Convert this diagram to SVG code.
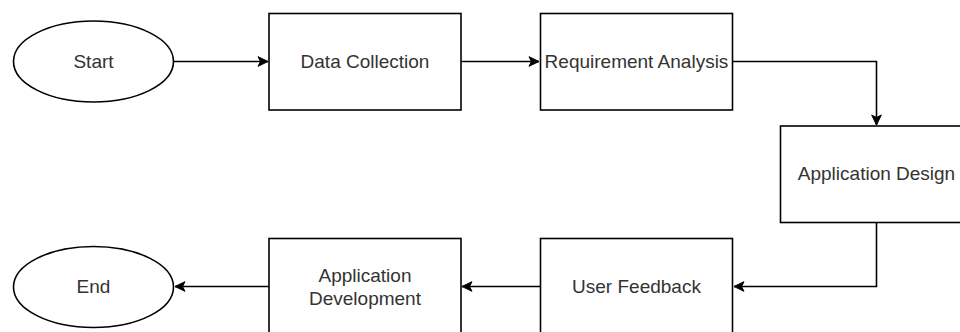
<svg xmlns="http://www.w3.org/2000/svg" width="960" height="332" viewBox="0 0 960 332">
<defs>
<style>
.shape{fill:#ffffff;stroke:#000000;stroke-width:1.6}
.lbl{font-family:"Liberation Sans",Arial,Helvetica,sans-serif;font-size:19px;fill:#333333;text-anchor:middle;dominant-baseline:central}
.edge{fill:none;stroke:#000000;stroke-width:1.6}
</style>
<marker id="arr" markerUnits="userSpaceOnUse" markerWidth="12" markerHeight="12" viewBox="0 0 12 12" refX="11" refY="6" orient="auto">
<path d="M1,1.2 L11,6 L1,10.8 L3.5,6 Z" fill="#000000" stroke="#000000" stroke-width="1"/>
</marker>
</defs>
<rect width="960" height="332" fill="#ffffff"/>
<g id="connectors">
<path class="edge" d="M174,61.5 L268,61.5" marker-end="url(#arr)"/>
<path class="edge" d="M461,61.5 L539,61.5" marker-end="url(#arr)"/>
<path class="edge" d="M733,61.5 L876.5,61.5 L876.5,125" marker-end="url(#arr)"/>
<path class="edge" d="M876.5,223 L876.5,286.5 L734,286.5" marker-end="url(#arr)"/>
<path class="edge" d="M540,286.5 L462,286.5" marker-end="url(#arr)"/>
<path class="edge" d="M269,286.5 L175,286.5" marker-end="url(#arr)"/>
</g>
<g id="start">
<ellipse class="shape" cx="93.5" cy="61.5" rx="80" ry="40.5"/>
<text class="lbl" x="93.5" y="61.5">Start</text>
</g>
<g id="data-collection">
<rect class="shape" x="269" y="13.5" width="192" height="96.5"/>
<text class="lbl" x="365" y="61.5">Data Collection</text>
</g>
<g id="requirement-analysis">
<rect class="shape" x="540.5" y="13.5" width="192" height="96.5"/>
<text class="lbl" x="636.5" y="61.5">Requirement Analysis</text>
</g>
<g id="application-design">
<rect class="shape" x="780.5" y="126" width="192" height="96.5"/>
<text class="lbl" x="876.5" y="173">Application Design</text>
</g>
<g id="user-feedback">
<rect class="shape" x="540.5" y="238.5" width="192" height="96.5"/>
<text class="lbl" x="636.5" y="286">User Feedback</text>
</g>
<g id="application-development">
<rect class="shape" x="269" y="238.5" width="192" height="96.5"/>
<text class="lbl" x="365" y="275">Application</text>
<text class="lbl" x="365" y="298">Development</text>
</g>
<g id="end">
<ellipse class="shape" cx="93.5" cy="287" rx="80" ry="40.5"/>
<text class="lbl" x="93.5" y="286">End</text>
</g>
</svg>
